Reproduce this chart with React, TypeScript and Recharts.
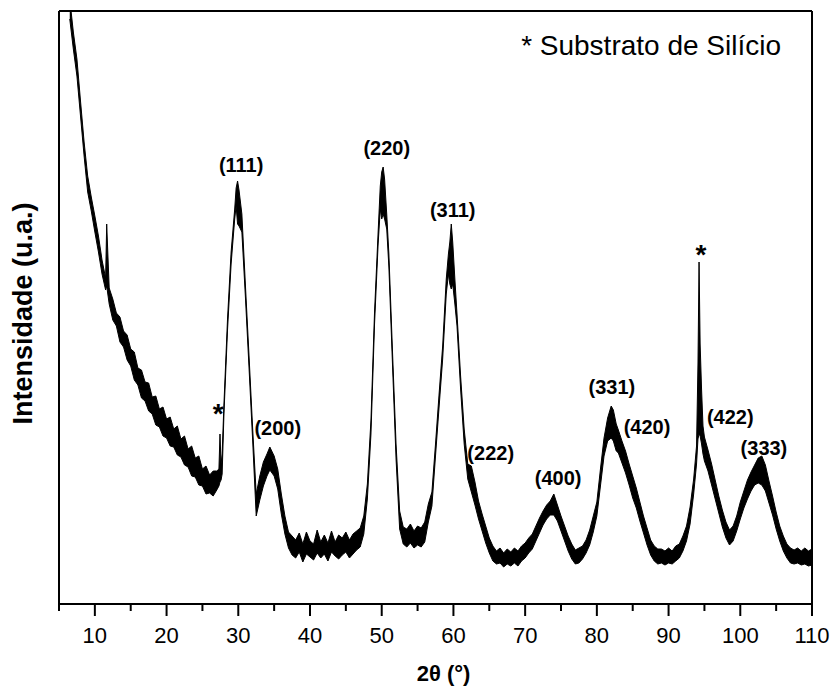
import React from 'react';
import { ComposedChart, Area, XAxis, YAxis, ReferenceDot } from 'recharts';

// 2θ positions (degrees) of the sampled pattern
const THETA = [
  6.5, 7, 7.5, 8, 8.5, 9, 9.5, 10, 10.5, 11, 11.5, 11.65, 12, 12.5, 13, 13.5, 14, 14.5, 15, 15.5,
  16, 16.5, 17, 17.5, 18, 18.5, 19, 19.5, 20, 20.5, 21, 21.5, 22, 22.5, 23, 23.5, 24, 24.5, 25, 25.5,
  26, 26.5, 27, 27.3, 27.45, 27.6, 27.75, 28, 28.5, 29, 29.5, 29.7, 29.9, 30.1, 30.5, 31, 31.5, 32, 32.5, 33,
  33.5, 34, 34.4, 35, 35.5, 36, 36.5, 37, 37.5, 38, 38.5, 39, 39.5, 40, 40.5, 41, 41.5, 42, 42.5, 43,
  43.5, 44, 44.5, 45, 45.5, 46, 46.5, 47, 47.5, 48, 48.5, 49, 49.5, 49.8, 50, 50.2, 50.4, 50.7, 51, 51.5,
  52, 52.5, 53, 53.5, 54, 54.5, 55, 55.5, 56, 56.5, 57, 57.5, 58, 58.5, 59, 59.3, 59.5, 59.7, 59.9, 60.2,
  60.5, 61, 61.5, 62, 62.5, 63, 63.5, 64, 64.5, 65, 65.5, 66, 66.5, 67, 67.5, 68, 68.5, 69, 69.5, 70,
  70.5, 71, 71.5, 72, 72.5, 73, 73.5, 74, 74.5, 75, 75.5, 76, 76.5, 77, 77.5, 78, 78.5, 79, 79.5, 80,
  80.5, 81, 81.5, 82, 82.3, 82.7, 83, 83.5, 84, 84.5, 85, 85.5, 86, 86.5, 87, 87.5, 88, 88.5, 89, 89.5,
  90, 90.5, 91, 91.5, 92, 92.5, 93, 93.5, 93.9, 94.1, 94.25, 94.4, 94.6, 94.8, 95, 95.5, 96, 96.5, 97, 97.5,
  98, 98.5, 99, 99.5, 100, 100.5, 101, 101.5, 102, 102.5, 103, 103.5, 104, 104.5, 105, 105.5, 106, 106.5, 107, 107.5,
  108, 108.5, 109, 109.5, 110,
];

// lower edge of the noisy trace (a.u.)
const LOWER = [
  585, 555, 528, 488, 448, 412, 393, 372, 352, 330, 314, 318, 300, 284, 278, 262, 257, 244, 238, 224,
  219, 206, 203, 193, 190, 179, 177, 168, 166, 158, 157, 149, 147, 139, 137, 128, 127, 119, 118, 110,
  111, 108, 114, 118, 122, 124, 130, 190, 274, 340, 385, 398, 380, 378, 372, 306, 236, 164, 88, 104,
  118, 128, 134, 128, 115, 90, 70, 56, 49, 46, 52, 42, 50, 47, 44, 51, 46, 50, 43, 52,
  48, 45, 49, 52, 46, 50, 54, 57, 70, 105, 170, 280, 360, 395, 385, 390, 385, 375, 337, 240,
  145, 75, 60, 57, 61, 56, 59, 57, 62, 82, 98, 148, 197, 245, 310, 330, 320, 315, 320, 300,
  278, 215, 160, 125, 112, 99, 85, 73, 61, 51, 43, 40, 41, 37, 40, 38, 41, 38, 43, 46,
  51, 55, 63, 71, 79, 85, 89, 89, 83, 73, 63, 53, 45, 40, 41, 45, 51, 59, 72, 88,
  118, 148, 163, 166, 163, 153, 151, 141, 131, 119, 106, 96, 83, 71, 59, 49, 43, 40, 41, 39,
  41, 40, 43, 46, 53, 63, 80, 110, 140, 165, 170, 168, 160, 150, 143, 133, 119, 105, 91, 77,
  66, 59, 63, 73, 85, 96, 105, 113, 119, 121, 119, 113, 101, 89, 75, 63, 53, 46, 41, 40,
  41, 39, 40, 38, 39,
];

// upper edge of the noisy trace (a.u.)
const UPPER = [
  605, 572, 545, 503, 462, 428, 407, 388, 368, 344, 326, 380, 316, 305, 291, 287, 273, 269, 255, 252,
  236, 234, 222, 221, 207, 208, 195, 197, 185, 187, 175, 178, 165, 168, 155, 158, 146, 148, 135, 138,
  129, 133, 133, 135, 170, 140, 150, 200, 285, 352, 395, 416, 423, 414, 390, 318, 248, 176, 110, 128,
  142, 150, 157, 148, 135, 110, 88, 72, 68, 64, 71, 60, 72, 63, 60, 74, 62, 69, 61, 73,
  62, 69, 66, 72, 64, 70, 73, 76, 88, 120, 184, 292, 372, 418, 432, 437, 425, 390, 350, 253,
  160, 93, 77, 75, 80, 73, 78, 76, 82, 100, 112, 160, 210, 258, 325, 350, 362, 380, 362, 325,
  290, 228, 175, 140, 138, 122, 103, 90, 78, 66, 58, 53, 56, 51, 55, 52, 56, 53, 58, 61,
  66, 70, 78, 86, 93, 99, 103, 110, 99, 88, 78, 68, 60, 54, 56, 58, 64, 74, 88, 102,
  135, 166, 186, 198, 194, 180, 174, 163, 153, 140, 128, 116, 102, 88, 76, 64, 58, 55, 55, 53,
  56, 53, 58, 60, 68, 78, 97, 125, 158, 240, 342, 260, 215, 178, 167, 154, 140, 124, 108, 94,
  82, 74, 78, 88, 102, 113, 124, 132, 139, 146, 148, 139, 123, 108, 92, 78, 68, 60, 56, 54,
  56, 53, 56, 53, 55,
];

const X_TICKS = [5, 10, 15, 20, 25, 30, 35, 40, 45, 50, 55, 60, 65, 70, 75, 80, 85, 90, 95, 100, 105, 110];

const PEAK_NAMES = ['(111)', '(200)', '(220)', '(311)', '(222)', '(400)', '(331)', '(420)', '(422)', '(333)'];
const PEAK_THETA = [30.4, 35.5, 50.7, 59.9, 65.2, 74.6, 82.1, 87.0, 98.6, 103.3];
const PEAK_LEVEL = [439, 176, 456, 394, 151, 126, 217, 177, 187, 156];

const STAR_THETA = [27.2, 94.5];
const STAR_LEVEL = [191, 350];

const FONT = '"Liberation Sans", Arial, Helvetica, sans-serif';

const data = THETA.map((t, i) => ({ t, band: [LOWER[i], UPPER[i]] }));

function textLabel(text: string, size: number, weight: string, anchor = 'middle', dy = '0.35em') {
  return (props: any) => {
    const vb = props.viewBox || props;
    const x = (vb.x || 0) + (vb.width || 0) / 2;
    const y = (vb.y || 0) + (vb.height || 0) / 2;
    return (
      <text x={x} y={y} dy={dy} textAnchor={anchor} fontFamily={FONT} fontSize={size} fontWeight={weight} fill="#000">
        {text}
      </text>
    );
  };
}

function XTick(props: any) {
  const { x, y, payload } = props;
  const major = payload.value % 10 === 0;
  return (
    <g>
      <line x1={x} x2={x} y1={y} y2={y + (major ? 12 : 7)} stroke="#000" strokeWidth={2} />
      {major && (
        <text x={x} y={y + 39} textAnchor="middle" fontFamily={FONT} fontSize={22} fill="#000">
          {payload.value}
        </text>
      )}
    </g>
  );
}

function XTitle(props: any) {
  const vb = props.viewBox;
  return (
    <text x={vb.x + vb.width / 2 + 8} y={vb.y + vb.height - 5} textAnchor="middle" fontFamily={FONT} fontSize={22} fontWeight="bold" fill="#000">
      2θ (°)
    </text>
  );
}

function YTitle(props: any) {
  const vb = props.viewBox;
  const x = 32;
  const y = vb.y + vb.height / 2 + 6;
  return (
    <text x={x} y={y} transform={`rotate(-90, ${x}, ${y})`} textAnchor="middle" fontFamily={FONT} fontSize={27} fontWeight="bold" fill="#000">
      Intensidade (u.a.)
    </text>
  );
}

export default function App() {
  const axisLine = { stroke: '#000', strokeWidth: 2 };
  return (
    <div style={{ position: 'absolute', left: 0, top: 0, background: '#fff' }}>
      <ComposedChart width={835} height={686} data={data} margin={{ top: 10, right: 22, bottom: 0, left: 58 }}>
        <XAxis
          dataKey="t"
          type="number"
          domain={[5, 110]}
          allowDataOverflow
          ticks={X_TICKS}
          interval={0}
          height={82}
          tickSize={0}
          tickMargin={0}
          tickLine={false}
          tick={<XTick />}
          axisLine={axisLine}
          label={XTitle}
        />
        <XAxis xAxisId="top" orientation="top" type="number" domain={[5, 110]} height={1} tick={false} tickLine={false} axisLine={axisLine} />
        <YAxis type="number" domain={[0, 593]} allowDataOverflow width={1} tick={false} tickLine={false} axisLine={axisLine} label={YTitle} />
        <YAxis yAxisId="right" orientation="right" type="number" domain={[0, 593]} width={1} tick={false} tickLine={false} axisLine={axisLine} />
        <Area
          type="linear"
          dataKey="band"
          stroke="#000"
          strokeWidth={1}
          fill="#000"
          fillOpacity={1}
          dot={false}
          activeDot={false}
          isAnimationActive={false}
        />
        {PEAK_NAMES.map((name, i) => (
          <ReferenceDot key={name} x={PEAK_THETA[i]} y={PEAK_LEVEL[i]} r={0} fill="none" stroke="none" label={textLabel(name, 20, 'bold')} />
        ))}
        {STAR_THETA.map((t, i) => (
          <ReferenceDot key={'star' + i} x={t} y={STAR_LEVEL[i]} r={0} fill="none" stroke="none" label={textLabel('*', 28, 'bold')} />
        ))}
        <ReferenceDot x={69.44} y={549} r={0} fill="none" stroke="none" label={textLabel('* Substrato de Silício', 28, 'normal', 'start', '0')} />
      </ComposedChart>
    </div>
  );
}
